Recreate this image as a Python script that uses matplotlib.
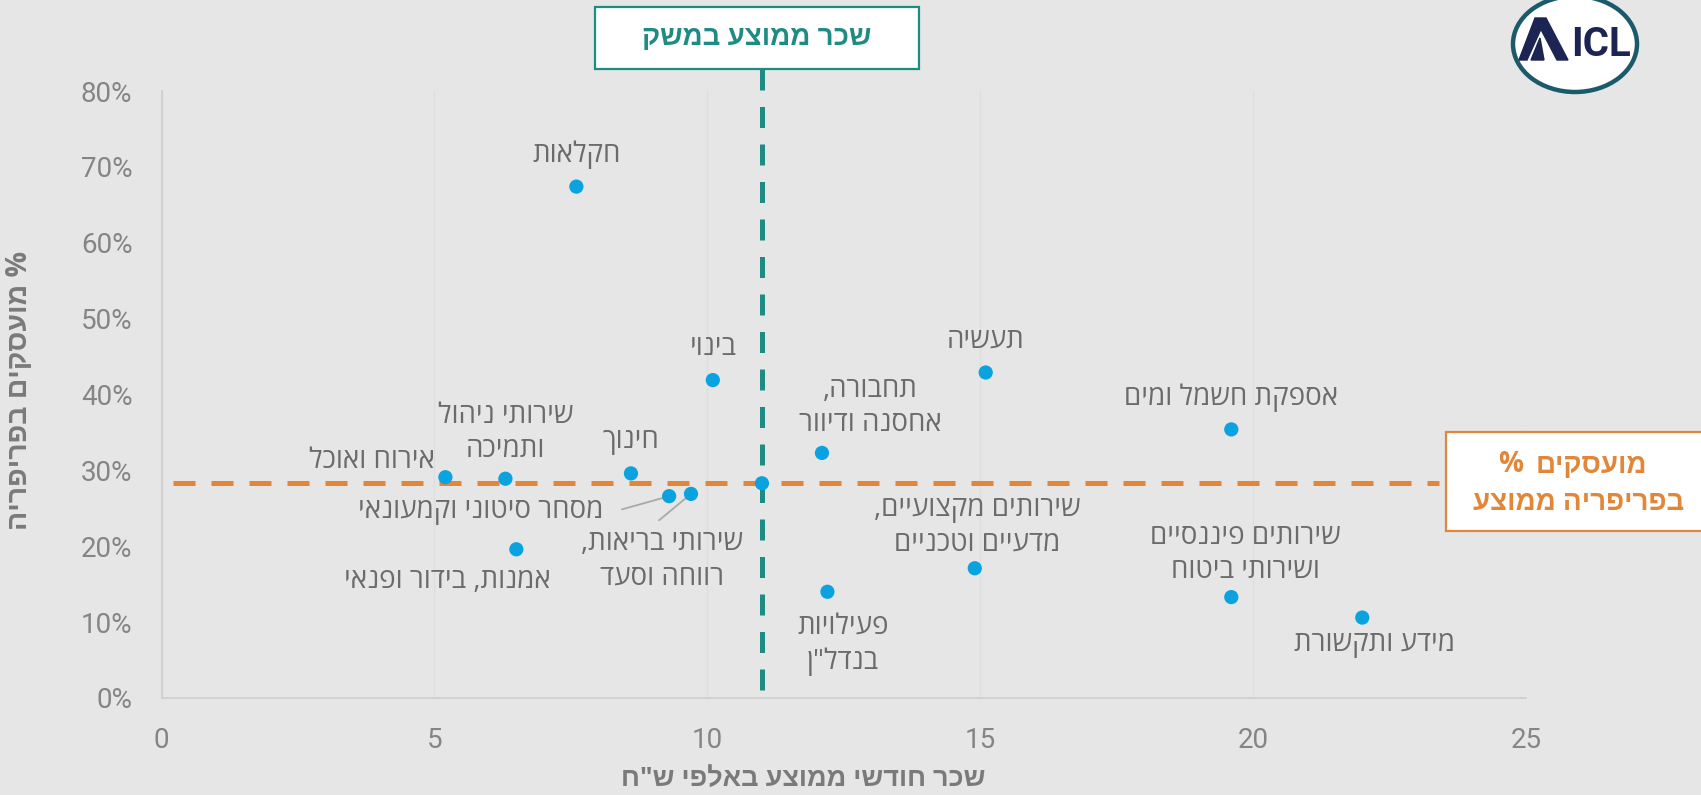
import matplotlib
matplotlib.use('Agg')
import matplotlib.pyplot as plt
from matplotlib.patches import Rectangle, Ellipse, Polygon
from matplotlib.ticker import FuncFormatter

# ---------------- data ----------------
sectors = [
    'חקלאות',
    'בינוי',
    'תעשיה',
    'תחבורה,\nאחסנה ודיוור',
    'אספקת חשמל ומים',
    'אירוח ואוכל',
    'שירותי ניהול\nותמיכה',
    'חינוך',
    'מסחר סיטוני וקמעונאי',
    'שירותי בריאות,\nרווחה וסעד',
    'אמנות, בידור ופנאי',
    'פעילויות\nבנדל"ן',
    'שירותים מקצועיים,\nמדעיים וטכניים',
    'שירותים פיננסיים\nושירותי ביטוח',
    'מידע ותקשורת',
    '',
]
wage_k = [7.6, 10.1, 15.1, 12.1, 19.6, 5.2, 6.3, 8.6, 9.3, 9.7, 6.5, 12.2, 14.9, 19.6, 22.0, 11.0]
periphery = [0.674, 0.419, 0.429, 0.323, 0.354, 0.291, 0.289, 0.296, 0.266, 0.269,
             0.196, 0.140, 0.171, 0.133, 0.106, 0.283]
avg_wage = 11.0
avg_periphery = 0.283

x_ticks = [0, 5, 10, 15, 20, 25]
y_ticks = [0, 0.1, 0.2, 0.3, 0.4, 0.5, 0.6, 0.7, 0.8]

# label offsets (points) relative to each point
label_offsets = [(0, 23), (0, 23), (0, 23), (35, 33), (0, 23), (-53, 12), (0, 33), (0, 23),
                 (-136, -11), (-21, -48), (-50, -23), (11, -38), (2, 30), (10, 31), (9, -19), (0, 0)]
leaders = {8: (-34, -9.5), 9: (-23, -19)}

# ---------------- style ----------------
W, H = 1701, 795
BG = '#e6e6e7'
BLUE = '#0aa3e0'
TEAL = '#1f8c84'
ORANGE = '#e2873a'
TXT = '#6b6b6b'
TICK = '#858585'
HEB = ['Open Sans', 'Liberation Sans', 'DejaVu Sans']


def rtl(s):
    return '\n'.join(line[::-1] for line in s.split('\n'))


fig = plt.figure(figsize=(W / 100, H / 100), dpi=100, facecolor=BG)
ax = fig.add_axes([161.6 / W, 1 - 698 / H, (1526 - 161.6) / W, (698 - 91) / H])
ax.set_facecolor('none')
ax.set_xlim(0, 25)
ax.set_ylim(0, 0.8)

for s in ['top', 'right']:
    ax.spines[s].set_visible(False)
for s in ['left', 'bottom']:
    ax.spines[s].set_color('#cfcfcf')
    ax.spines[s].set_linewidth(1.3)

ax.set_xticks(x_ticks)
ax.set_yticks(y_ticks)
ax.yaxis.set_major_formatter(FuncFormatter(lambda v, p: f'{v * 100:.0f}%'))
ax.tick_params(length=0, labelsize=20, labelcolor=TICK, pad=21)
for lab in ax.get_xticklabels() + ax.get_yticklabels():
    lab.set_family(['Roboto', 'DejaVu Sans'])
ax.grid(axis='x', color='#dedede', linewidth=1.0)
ax.set_axisbelow(True)

# average lines
ax.hlines(avg_periphery, 0.2, 23.4, colors=ORANGE, linewidth=3.6,
          linestyles=(0, (4.4, 3.2)), clip_on=False, zorder=3)
ax.vlines(avg_wage, 0.01, 0.86, colors=TEAL, linewidth=3.6,
          linestyles=(0, (4.2, 3.3)), clip_on=False, zorder=3)

# points
ax.scatter(wage_k, periphery, s=105, color=BLUE, edgecolors='none', zorder=5, clip_on=False)

# labels
for i, (name, x, y) in enumerate(zip(sectors, wage_k, periphery)):
    if not name:
        continue
    dx, dy = label_offsets[i]
    ax.annotate(rtl(name), (x, y), xytext=(dx, dy), textcoords='offset points',
                ha='center', va='center', fontsize=20, color=TXT, family=HEB,
                linespacing=1.3, zorder=6)
    if i in leaders:
        ax.annotate('', (x, y), xytext=leaders[i], textcoords='offset points',
                    arrowprops=dict(arrowstyle='-', color='#a9a9a9', lw=1.3,
                                    shrinkA=0, shrinkB=0), zorder=4)

# axis titles
fig.text(20 / W, 1 - 390 / H, rtl('% מועסקים בפריפריה'), rotation=90, ha='center', va='center',
         fontsize=20.5, fontweight='bold', color='#7a7a7a', family=HEB)
fig.text(803 / W, 1 - 779 / H, rtl('שכר חודשי ממוצע באלפי ש"ח'), ha='center', va='center',
         fontsize=19.5, fontweight='bold', color='#7a7a7a', family=HEB)

# overlay in pixel coordinates for boxes and logo
ov = fig.add_axes([0, 0, 1, 1])
ov.set_xlim(0, W)
ov.set_ylim(H, 0)
ov.axis('off')
ov.set_zorder(10)

ov.add_patch(Rectangle((595, 7), 324, 62, facecolor='white', edgecolor=TEAL, linewidth=1.6))
ov.text(757, 38, rtl('שכר ממוצע במשק'), ha='center', va='center', fontsize=20,
        fontweight='bold', color=TEAL, family=HEB)

ov.add_patch(Rectangle((1446, 432), 262, 99, facecolor='white', edgecolor=ORANGE,
                       linewidth=1.6, clip_on=False))
box_kw = dict(va='center', fontsize=20, fontweight='bold', color=ORANGE, family=HEB)
ov.text(1523, 465, '%', ha='right', **box_kw)
ov.text(1591, 465, rtl('מועסקים'), ha='center', **box_kw)
ov.text(1579, 502, rtl('בפריפריה ממוצע'), ha='center', **box_kw)

# logo
ov.add_patch(Ellipse((1575, 44), 124, 96, facecolor='white', edgecolor='#1b5a6a', linewidth=3.2))
NAVY = '#1b2452'
ov.add_patch(Polygon([(1535, 18), (1546, 18), (1568, 60), (1557, 60)], closed=True, color=NAVY))
ov.add_patch(Polygon([(1535, 18), (1541, 29), (1527, 60), (1519, 60)], closed=True, color=NAVY))
ov.add_patch(Polygon([(1531, 60), (1544, 60), (1540, 38)], closed=True, color=NAVY))
ov.text(1601, 45, 'ICL', ha='center', va='center', fontsize=29, fontweight='bold',
        color=NAVY, family=['Roboto', 'Liberation Sans', 'DejaVu Sans'])

fig.savefig('out.png', dpi=100, facecolor=BG)
